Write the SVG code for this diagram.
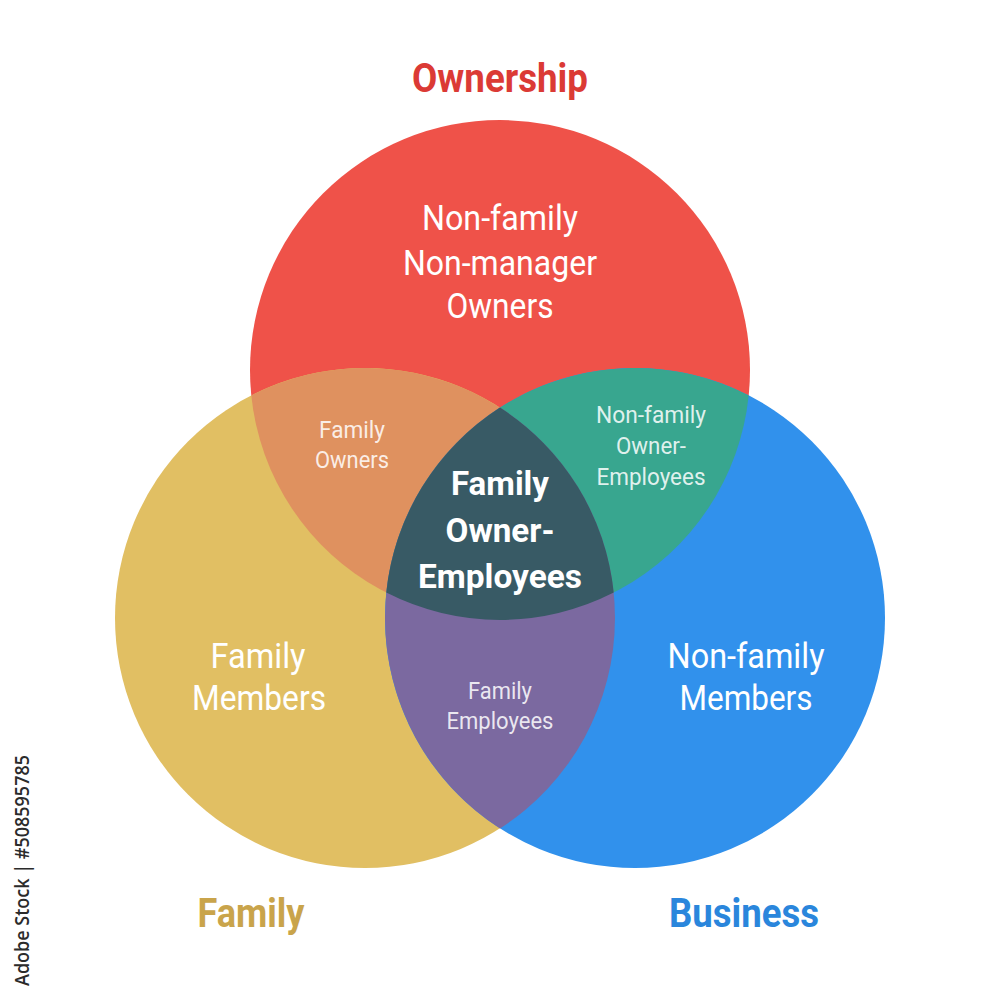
<svg xmlns="http://www.w3.org/2000/svg" width="1000" height="1000" viewBox="0 0 1000 1000">
<style>
text{font-family:Roboto,"Liberation Sans",sans-serif;text-anchor:middle}
.big{font-size:35px;fill:#fff}
.small{font-size:24px;fill:#fff;fill-opacity:0.85}
.center{font-size:33px;font-weight:bold;fill:#fff}
.title{font-size:40px;font-weight:bold}
</style>
<rect width="1000" height="1000" fill="#fff"/>
<g id="circles">
<circle id="ownership" cx="500" cy="370" r="250" fill="#EF5249"/>
<circle id="family" cx="365" cy="618" r="250" fill="#E1BF63"/>
<circle id="business" cx="635" cy="618" r="250" fill="#3191EC"/>
<path id="family-owners" d="M251.3 395.4A250 250 0 0 1 613.7 592.6A250 250 0 0 1 251.3 395.4Z" fill="#DF915F"/>
<path id="nonfamily-owner-employees" d="M748.7 395.4A250 250 0 0 0 386.3 592.6A250 250 0 0 0 748.7 395.4Z" fill="#38A68F"/>
<path id="family-employees" d="M500 407.6A250 250 0 0 1 500 828.4A250 250 0 0 1 500 407.6Z" fill="#7B69A0"/>
<path id="family-owner-employees" d="M500 407.6A250 250 0 0 1 613.7 592.6A250 250 0 0 1 386.3 592.6A250 250 0 0 1 500 407.6Z" fill="#385A65"/>
</g>
<g id="labels">
<text class="title" x="500" y="92" fill="#DB3A35" textLength="176" lengthAdjust="spacingAndGlyphs">Ownership</text>
<text class="title" x="251" y="927" fill="#C9A44B" textLength="107" lengthAdjust="spacingAndGlyphs">Family</text>
<text class="title" x="744" y="927" fill="#2A86DC" textLength="150" lengthAdjust="spacingAndGlyphs">Business</text>

<text class="big" x="500" y="230" textLength="156" lengthAdjust="spacingAndGlyphs">Non-family</text>
<text class="big" x="500" y="275" textLength="194" lengthAdjust="spacingAndGlyphs">Non-manager</text>
<text class="big" x="500" y="318" textLength="107" lengthAdjust="spacingAndGlyphs">Owners</text>

<text class="big" x="258" y="668" textLength="95" lengthAdjust="spacingAndGlyphs">Family</text>
<text class="big" x="259" y="710" textLength="134" lengthAdjust="spacingAndGlyphs">Members</text>

<text class="big" x="746" y="668" textLength="157" lengthAdjust="spacingAndGlyphs">Non-family</text>
<text class="big" x="746" y="710" textLength="133" lengthAdjust="spacingAndGlyphs">Members</text>

<text class="small" x="352" y="438" textLength="66" lengthAdjust="spacingAndGlyphs">Family</text>
<text class="small" x="352" y="468" textLength="74" lengthAdjust="spacingAndGlyphs">Owners</text>

<text class="small" x="651" y="423" textLength="110" lengthAdjust="spacingAndGlyphs">Non-family</text>
<text class="small" x="651" y="454" textLength="70" lengthAdjust="spacingAndGlyphs">Owner-</text>
<text class="small" x="651" y="485" textLength="109" lengthAdjust="spacingAndGlyphs">Employees</text>

<text class="small" x="500" y="699" textLength="64" lengthAdjust="spacingAndGlyphs">Family</text>
<text class="small" x="500" y="729" textLength="107" lengthAdjust="spacingAndGlyphs">Employees</text>

<text class="center" x="500" y="495" textLength="98" lengthAdjust="spacingAndGlyphs">Family</text>
<text class="center" x="500" y="542" textLength="109" lengthAdjust="spacingAndGlyphs">Owner-</text>
<text class="center" x="500" y="588" textLength="164" lengthAdjust="spacingAndGlyphs">Employees</text>

<text transform="translate(29,986) rotate(-90)" style="font-family:'Open Sans','DejaVu Sans',sans-serif;font-size:20px;font-weight:600;text-anchor:start;fill:#2b2b2b" textLength="231" lengthAdjust="spacingAndGlyphs">Adobe Stock | #508595785</text>
</g>
</svg>
